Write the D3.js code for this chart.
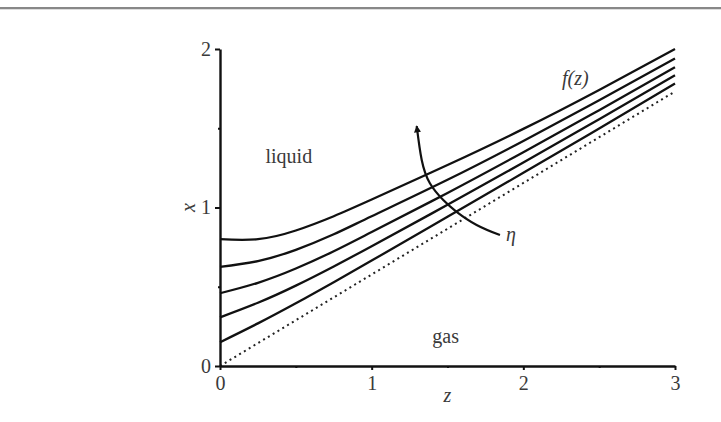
<!DOCTYPE html>
<html>
<head>
<meta charset="utf-8">
<script src="https://cdn.jsdelivr.net/npm/d3@7"></script>
<style>
  html, body { margin: 0; padding: 0; background: #fff; }
  svg { display: block; }
  text { font-family: "Liberation Serif", "DejaVu Serif", serif; fill: #3a3a3a; }
</style>
</head>
<body>
<svg id="chart" width="721" height="422"></svg>
<script>
// ---- data ----
const zValues = [0, 0.25, 0.5, 0.75, 1, 1.5, 2, 2.5, 3];
const curve1 = [0.800, 0.800, 0.855, 0.945, 1.050, 1.268, 1.496, 1.742, 2.000];
const curve2 = [0.626, 0.662, 0.733, 0.831, 0.945, 1.175, 1.420, 1.677, 1.940];
const curve3 = [0.459, 0.525, 0.615, 0.724, 0.845, 1.092, 1.349, 1.614, 1.885];
const curve4 = [0.307, 0.399, 0.507, 0.628, 0.756, 1.017, 1.284, 1.557, 1.834];
const curve5 = [0.150, 0.269, 0.396, 0.528, 0.665, 0.941, 1.219, 1.499, 1.782];
const dottedZ = [0, 3];
const dottedX = [0, 1.732];
const xTicks = [0, 1, 2, 3];
const xMinorTicks = [0.5, 1.5, 2.5];
const yTicks = [0, 1, 2];
const yMinorTicks = [0.5, 1.5];
// eta arrow path (data units), tail -> head
const arrowZ = [1.846, 1.692, 1.560, 1.472, 1.384, 1.330, 1.297];
const arrowX = [0.826, 0.890, 0.973, 1.047, 1.153, 1.300, 1.514];

// ---- layout ----
const svg = d3.select("#chart");
const W = 721, H = 422;
const xS = d3.scaleLinear().domain([0, 3]).range([220, 675]);
const yS = d3.scaleLinear().domain([0, 2]).range([366, 49]);

// top rule
svg.append("rect").attr("x", 0).attr("y", 7).attr("width", W).attr("height", 2).attr("fill", "#888");
svg.append("rect").attr("x", 0).attr("y", 9).attr("width", W).attr("height", 1).attr("fill", "#ddd");

const line = d3.line().x(d => xS(d[0])).y(d => yS(d[1])).curve(d3.curveNatural);

// dotted asymptote
svg.append("path")
  .datum(dottedZ.map((z, i) => [z, dottedX[i]]))
  .attr("d", d3.line().x(d => xS(d[0])).y(d => yS(d[1])))
  .attr("fill", "none").attr("stroke", "#222").attr("stroke-width", 2)
  .attr("stroke-dasharray", "2,3.6");

// curves
[curve1, curve2, curve3, curve4, curve5].forEach(c => {
  svg.append("path")
    .datum(zValues.map((z, i) => [z, c[i]]))
    .attr("d", line)
    .attr("fill", "none").attr("stroke", "#111").attr("stroke-width", 2.3);
});

// axes
const xAxis = d3.axisBottom(xS).tickValues(xTicks).tickSize(4).tickSizeOuter(0).tickPadding(6).tickFormat(d3.format("d"));
const gx = svg.append("g").attr("transform", `translate(0,${yS(0)})`).call(xAxis);
const xMinor = d3.axisBottom(xS).tickValues(xMinorTicks).tickSize(2).tickSizeOuter(0).tickFormat("");
const gxm = svg.append("g").attr("transform", `translate(0,${yS(0)})`).call(xMinor);
gxm.select(".domain").remove();

const yAxis = d3.axisLeft(yS).tickValues(yTicks).tickSize(5).tickSizeOuter(0).tickPadding(4).tickFormat(d3.format("d"));
const gy = svg.append("g").attr("transform", `translate(${xS(0)},0)`).call(yAxis);
const yMinor = d3.axisLeft(yS).tickValues(yMinorTicks).tickSize(2).tickSizeOuter(0).tickFormat("");
const gym = svg.append("g").attr("transform", `translate(${xS(0)},0)`).call(yMinor);
gym.select(".domain").remove();

svg.selectAll(".domain").attr("stroke", "#111").attr("stroke-width", 2.4);
svg.selectAll(".tick line").attr("stroke", "#111").attr("stroke-width", 2);
svg.selectAll(".tick text")
  .attr("font-family", '"Liberation Serif", serif')
  .attr("font-size", 20).attr("fill", "#444");

// axis labels
svg.append("text").attr("x", (xS(0) + xS(3)) / 2).attr("y", 402)
  .attr("text-anchor", "middle").attr("font-size", 20).attr("font-style", "italic").attr("fill", "#444").text("z");
svg.append("text").attr("transform", `translate(190,${yS(1)}) rotate(-90)`)
  .attr("text-anchor", "middle").attr("dominant-baseline", "middle").attr("font-size", 20).attr("font-style", "italic").attr("fill", "#444").text("x");

// region labels
svg.append("text").attr("x", xS(0.3)).attr("y", 163).attr("font-size", 20).attr("fill", "#444").text("liquid");
svg.append("text").attr("x", xS(1.4)).attr("y", 343).attr("font-size", 20).attr("fill", "#444").text("gas");
svg.append("text").attr("x", 562).attr("y", 85).attr("font-size", 20).attr("font-style", "italic").attr("fill", "#444").text("f(z)");

// eta arrow
const defs = svg.append("defs");
defs.append("marker").attr("id", "ah").attr("viewBox", "0 0 10 10")
  .attr("refX", 9).attr("refY", 5).attr("markerWidth", 13).attr("markerHeight", 7)
  .attr("markerUnits", "userSpaceOnUse").attr("orient", "auto")
  .append("path").attr("d", "M0,0 L10,5 L0,10 Z").attr("fill", "#111");
svg.append("path")
  .datum(arrowZ.map((z, i) => [z, arrowX[i]]))
  .attr("d", d3.line().x(d => xS(d[0])).y(d => yS(d[1])).curve(d3.curveNatural))
  .attr("fill", "none").attr("stroke", "#111").attr("stroke-width", 2.2)
  .attr("marker-end", "url(#ah)");
svg.append("text").attr("x", 506).attr("y", 241).attr("font-size", 20).attr("font-style", "italic").attr("fill", "#444").text("η");
</script>
</body>
</html>
